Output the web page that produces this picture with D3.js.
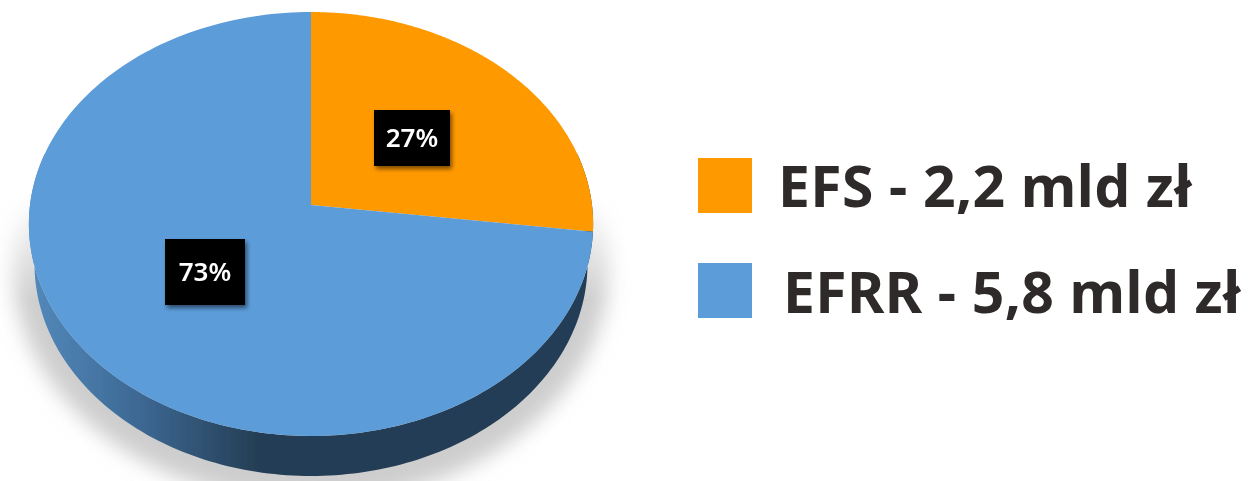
<!DOCTYPE html>
<html>
<head>
<meta charset="utf-8">
<script src="https://cdn.jsdelivr.net/npm/d3@7"></script>
<style>
  html, body { margin: 0; padding: 0; background: #fff; overflow: hidden; }
  svg { display: block; }
</style>
</head>
<body>
<div id="chart"></div>
<script>
const categories = ["EFS", "EFRR"];
const shares = [27, 73];
const amounts = ["2,2 mld zł", "5,8 mld zł"];
const colors = ["#ff9900", "#5c9cd9"];

const width = 1254, height = 481;
const svg = d3.select("#chart").append("svg")
    .attr("width", width)
    .attr("height", height);

// Tilted disc: unit circle -> screen, centre lands above the middle of the ellipse
const cx = 311, rx = 281;
const tilt = -0.0896;
function project(angle, r = 1) {
    const ux = Math.sin(angle) * r, uy = -Math.cos(angle) * r;
    const w = 1 + tilt * uy;
    return [cx + rx * ux / w, (191.9 * uy + 205) / w];
}

const line = d3.line();
const sample = (a0, a1) => d3.range(0, 181).map(i => project(a0 + (a1 - a0) * i / 180));

const slices = d3.pie().sort(null)(shares);

// Defs
const defs = svg.append("defs");
defs.append("filter").attr("id", "soft")
    .attr("x", "-20%").attr("y", "-20%").attr("width", "140%").attr("height", "140%")
    .append("feGaussianBlur").attr("stdDeviation", 10);
defs.append("filter").attr("id", "scan")
    .attr("filterUnits", "userSpaceOnUse")
    .attr("x", 0).attr("y", 0).attr("width", width).attr("height", height)
    .append("feGaussianBlur").attr("stdDeviation", 0.6);
const boxShadow = defs.append("filter").attr("id", "boxShadow")
    .attr("x", "-20%").attr("y", "-20%").attr("width", "150%").attr("height", "150%");
boxShadow.append("feDropShadow")
    .attr("dx", 2).attr("dy", 3).attr("stdDeviation", 2)
    .attr("flood-color", "#000").attr("flood-opacity", 0.5);

const wallGrad = defs.append("linearGradient").attr("id", "wall")
    .attr("gradientUnits", "userSpaceOnUse")
    .attr("x1", 35).attr("x2", 590).attr("y1", 0).attr("y2", 0);
[[0, "#5288ba"], [0.2, "#3b6690"], [0.4, "#243e55"], [1, "#243e55"]].forEach(s => {
    wallGrad.append("stop").attr("offset", s[0]).attr("stop-color", s[1]);
});

const fadeGrad = defs.append("linearGradient").attr("id", "fade")
    .attr("gradientUnits", "userSpaceOnUse")
    .attr("x1", 0).attr("x2", 0).attr("y1", 195).attr("y2", 300);
fadeGrad.append("stop").attr("offset", 0).attr("stop-color", "#000");
fadeGrad.append("stop").attr("offset", 1).attr("stop-color", "#fff");
defs.append("mask").attr("id", "fadeMask")
    .attr("maskUnits", "userSpaceOnUse")
    .attr("x", 0).attr("y", 0).attr("width", width).attr("height", height)
    .append("rect").attr("width", width).attr("height", height).attr("fill", "url(#fade)");

const root = svg.append("g").attr("filter", "url(#scan)");

// Shadow under the pie
root.append("g").attr("mask", "url(#fadeMask)")
    .append("ellipse")
    .attr("cx", cx).attr("cy", 266).attr("rx", 298).attr("ry", 236)
    .attr("fill", "#cdcdcd")
    .attr("filter", "url(#soft)");

// Side wall: lower rim of the disc, pushed down and pulled in a little
const rimTop = sample(Math.PI * 0.42, Math.PI * 1.58);
const rimLow = rimTop.map(p => [cx + (p[0] - cx) * 0.98, p[1] + 40]).reverse();
root.append("path")
    .attr("d", line(rimTop.concat(rimLow)) + "Z")
    .attr("fill", "url(#wall)");

// Top face
root.selectAll(".slice")
    .data(slices)
    .join("path")
    .attr("class", "slice")
    .attr("d", d => line([project(0, 0), ...sample(d.startAngle, d.endAngle)]) + "Z")
    .attr("fill", (d, i) => colors[i]);

// Value labels
const boxes = [
    { x: 374, y: 110, w: 76, h: 56 },
    { x: 165, y: 239, w: 80, h: 66 }
];
const labels = root.selectAll(".label")
    .data(shares)
    .join("g")
    .attr("class", "label");
labels.append("rect")
    .attr("x", (d, i) => boxes[i].x)
    .attr("y", (d, i) => boxes[i].y)
    .attr("width", (d, i) => boxes[i].w)
    .attr("height", (d, i) => boxes[i].h)
    .attr("fill", "#000")
    .attr("filter", "url(#boxShadow)");
labels.append("text")
    .attr("x", (d, i) => boxes[i].x + boxes[i].w / 2)
    .attr("y", (d, i) => boxes[i].y + boxes[i].h / 2 + 9)
    .attr("text-anchor", "middle")
    .attr("font-family", "'Noto Sans', sans-serif")
    .attr("font-weight", 600)
    .attr("font-size", 26)
    .attr("fill", "#fff")
    .text(d => d + "%");

// Legend
const legendY = [158, 263];
const legendTextX = [778, 783];
const legendBase = [207, 313];
const legend = root.selectAll(".legend")
    .data(categories)
    .join("g")
    .attr("class", "legend");
legend.append("rect")
    .attr("x", 698)
    .attr("y", (d, i) => legendY[i])
    .attr("width", 54)
    .attr("height", 55)
    .attr("fill", (d, i) => colors[i]);
legend.append("text")
    .attr("x", (d, i) => legendTextX[i])
    .attr("y", (d, i) => legendBase[i])
    .attr("font-family", "'Noto Sans', sans-serif")
    .attr("font-weight", 700)
    .attr("font-size", 57)
    .attr("letter-spacing", 0.4)
    .attr("fill", "#2d2c2a")
    .text((d, i) => d + " - " + amounts[i]);
</script>
</body>
</html>
